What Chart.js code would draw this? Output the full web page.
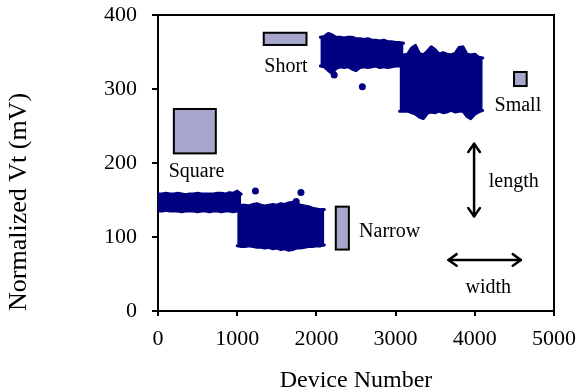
<!DOCTYPE html>
<html>
<head>
<meta charset="utf-8">
<script src="https://cdn.jsdelivr.net/npm/chart.js@4.4.1/dist/chart.umd.min.js"></script>
<style>
  html, body { margin: 0; padding: 0; background: #fff; }
  #wrap { width: 576px; height: 390px; }
</style>
</head>
<body>
<div id="wrap"><canvas id="vtChart" width="576" height="390"></canvas></div>
<script>
/* -------------------- DATA -------------------- */
// Vt spread per device group, upper / lower edge every 50 devices (mV)
const STEP = 50;

const squareStart = 0;
const squareHi = [158,158,159,158,158,159,158,157,158,158,159,158,158,158,158,159,159,158,160,159,162,158];
const squareLo = [135,135,136,135,135,135,134,135,135,135,134,135,135,134,135,135,134,135,135,134,135,136];

const narrowStart = 1000;
const narrowHi = [142,143,143,142,144,145,143,142,143,144,143,145,144,146,147,145,143,142,141,139,138,137,137];
const narrowLo = [88,87,87,88,87,86,86,85,86,84,85,83,84,82,83,85,85,86,87,87,88,88,89];

const shortStart = 2050;
const shortHi = [370,371,375,373,370,370,369,370,370,368,368,367,368,366,366,365,366,364,364,363,363,362];
const shortLo = [331,330,325,321,328,330,329,330,327,325,329,330,329,330,331,329,330,329,330,331,331,332];

const smallStart = 3050;
const smallHi = [346,346,347,355,359,348,346,351,357,353,347,349,347,346,348,356,357,347,346,347,343,342];
const smallLo = [270,270,270,268,266,262,260,267,269,268,270,268,269,271,269,270,270,263,260,266,269,271];

// stray devices outside the bands
const strayX = [1230, 1745, 1805, 2225, 2580];
const strayY = [162, 148, 160, 319, 303];

const xTicks = [0, 1000, 2000, 3000, 4000, 5000];
const yTicks = [0, 100, 200, 300, 400];

/* -------------------- SHAPES + LABELS -------------------- */
const SERIF = '"Liberation Serif", "Times New Roman", serif';
const NAVY = '#000080';

const shapes = [
  { x0: 1335, x1: 1875, y0: 359.5, y1: 376 },  // short
  { x0: 200,  x1: 730,  y0: 213,   y1: 273 },  // square
  { x0: 4495, x1: 4655, y0: 304,   y1: 323 },  // small
  { x0: 2245, x1: 2410, y0: 83,    y1: 141 }   // narrow
];

const notes = [
  { text: 'Short',  x: 1616, y: 323 },
  { text: 'Square', x: 486,  y: 181 },
  { text: 'Small',  x: 4544, y: 270 },
  { text: 'Narrow', x: 2925, y: 100 },
  { text: 'length', x: 4491, y: 168 },
  { text: 'width',  x: 4171, y: 24 }
];

const arrows = [
  { x0: 3991, y0: 128, x1: 3991, y1: 226 },
  { x0: 3668, y0: 69,  x1: 4582, y1: 69 }
];

function band(start, values) {
  return values.map((v, i) => ({ x: start + i * STEP, y: v }));
}

function bandSets(start, hi, lo) {
  const common = {
    showLine: true,
    borderColor: NAVY,
    backgroundColor: NAVY,
    borderWidth: 3,
    borderJoinStyle: 'round',
    borderCapStyle: 'round',
    pointRadius: 0,
    tension: 0
  };
  return [
    Object.assign({ data: band(start, hi), fill: '+1' }, common),
    Object.assign({ data: band(start, lo), fill: false }, common)
  ];
}

function drawHead(ctx, tx, ty, fx, fy) {
  const ang = Math.atan2(ty - fy, tx - fx);
  const len = 10, spread = 0.62;
  ctx.beginPath();
  ctx.moveTo(tx - len * Math.cos(ang - spread), ty - len * Math.sin(ang - spread));
  ctx.lineTo(tx, ty);
  ctx.lineTo(tx - len * Math.cos(ang + spread), ty - len * Math.sin(ang + spread));
  ctx.stroke();
}

const decor = {
  id: 'decor',
  afterDatasetsDraw(chart) {
    const { ctx, chartArea: a, scales: { x, y } } = chart;
    ctx.save();

    // top + right frame
    ctx.strokeStyle = '#000';
    ctx.lineWidth = 2;
    ctx.beginPath();
    ctx.moveTo(a.left, a.top);
    ctx.lineTo(a.right, a.top);
    ctx.lineTo(a.right, a.bottom);
    ctx.stroke();

    shapes.forEach(s => {
      const px = x.getPixelForValue(s.x0), px2 = x.getPixelForValue(s.x1);
      const py = y.getPixelForValue(s.y1), py2 = y.getPixelForValue(s.y0);
      ctx.fillStyle = '#a6a6cc';
      ctx.fillRect(px, py, px2 - px, py2 - py);
      ctx.lineWidth = 2;
      ctx.strokeRect(px, py, px2 - px, py2 - py);
    });

    ctx.lineWidth = 2.5;
    ctx.lineCap = 'round';
    ctx.lineJoin = 'round';
    arrows.forEach(r => {
      const ax = x.getPixelForValue(r.x0), ay = y.getPixelForValue(r.y0);
      const bx = x.getPixelForValue(r.x1), by = y.getPixelForValue(r.y1);
      ctx.beginPath();
      ctx.moveTo(ax, ay);
      ctx.lineTo(bx, by);
      ctx.stroke();
      drawHead(ctx, ax, ay, bx, by);
      drawHead(ctx, bx, by, ax, ay);
    });

    ctx.fillStyle = '#000';
    ctx.font = '20px ' + SERIF;
    ctx.textAlign = 'center';
    ctx.textBaseline = 'alphabetic';
    notes.forEach(n => {
      ctx.fillText(n.text, x.getPixelForValue(n.x), y.getPixelForValue(n.y));
    });

    ctx.restore();
  }
};

/* -------------------- CHART -------------------- */
const datasets = [
  ...bandSets(squareStart, squareHi, squareLo),
  ...bandSets(narrowStart, narrowHi, narrowLo),
  ...bandSets(shortStart, shortHi, shortLo),
  ...bandSets(smallStart, smallHi, smallLo),
  {
    data: strayX.map((v, i) => ({ x: v, y: strayY[i] })),
    pointRadius: 3.5,
    pointBackgroundColor: NAVY,
    pointBorderWidth: 0
  }
];

new Chart(document.getElementById('vtChart'), {
  type: 'scatter',
  data: { datasets },
  options: {
    responsive: false,
    animation: false,
    layout: { padding: 0 },
    plugins: { legend: { display: false }, tooltip: { enabled: false } },
    scales: {
      x: {
        type: 'linear',
        min: xTicks[0],
        max: xTicks[xTicks.length - 1],
        afterBuildTicks: s => { s.ticks = xTicks.map(v => ({ value: v })); },
        ticks: {
          color: '#000',
          font: { family: SERIF, size: 22 },
          padding: 10,
          maxRotation: 0,
          callback: v => String(v)
        },
        grid: { drawOnChartArea: false, tickLength: 5, color: '#000', lineWidth: 2 },
        border: { color: '#000', width: 2 },
        title: {
          display: true,
          text: 'Device Number',
          color: '#000',
          font: { family: SERIF, size: 24, lineHeight: 0.75 },
          padding: 0
        },
        afterFit: s => {
          s.height = 79;
          s.paddingLeft = 0;
          s.paddingRight = 22;
        }
      },
      y: {
        min: yTicks[0],
        max: yTicks[yTicks.length - 1],
        afterBuildTicks: s => { s.ticks = yTicks.map(v => ({ value: v })); },
        ticks: { color: '#000', font: { family: SERIF, size: 22 }, padding: 15, callback: v => String(v) },
        grid: { drawOnChartArea: false, tickLength: 6, color: '#000', lineWidth: 2 },
        border: { color: '#000', width: 2 },
        title: {
          display: true,
          text: 'Normalized Vt (mV)',
          align: 'start',
          color: '#000',
          font: { family: SERIF, size: 26, lineHeight: 1.2 },
          padding: { top: 4, bottom: 0 }
        },
        afterFit: s => {
          s.width = 158;
          s.paddingTop = 15;
          s.paddingBottom = 0;
        }
      }
    }
  },
  plugins: [decor]
});
</script>
</body>
</html>
